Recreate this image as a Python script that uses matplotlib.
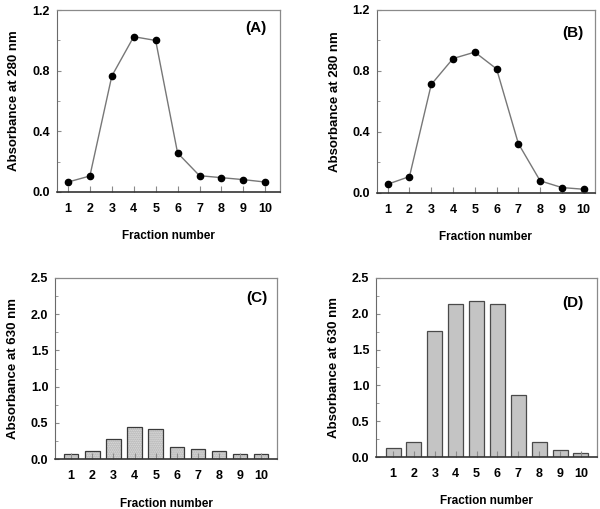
import matplotlib
matplotlib.use("Agg")
import matplotlib.pyplot as plt
from matplotlib.ticker import MultipleLocator

plt.rcParams["font.family"] = ["Liberation Sans", "DejaVu Sans"]

fractions = list(range(1, 11))
abs280_a = [0.065, 0.105, 0.765, 1.025, 1.0, 0.257, 0.107, 0.094, 0.081, 0.065]
abs280_b = [0.057, 0.107, 0.71, 0.88, 0.922, 0.812, 0.323, 0.079, 0.035, 0.024]
abs630_c = [0.065, 0.106, 0.28, 0.449, 0.41, 0.17, 0.14, 0.115, 0.074, 0.065]
abs630_d = [0.12, 0.21, 1.76, 2.13, 2.18, 2.13, 0.86, 0.215, 0.098, 0.05]
panel_tags = ["(A)", "(B)", "(C)", "(D)"]

fig = plt.figure(figsize=(6.0, 5.09), dpi=100)
ax_a = fig.add_axes([0.095, 0.623, 0.372, 0.357])
ax_b = fig.add_axes([0.628, 0.621, 0.363, 0.360])
ax_c = fig.add_axes([0.092, 0.098, 0.370, 0.356])
ax_d = fig.add_axes([0.627, 0.102, 0.368, 0.352])


def style_axes(ax, ylim, major, minor, ylabel, xlim, tag, tag_pos):
    ax.set_xlim(*xlim)
    ax.set_ylim(*ylim)
    ax.set_xticks(fractions)
    ax.yaxis.set_major_locator(MultipleLocator(major))
    ax.yaxis.set_minor_locator(MultipleLocator(minor))
    ax.tick_params(axis="both", which="both", direction="in", colors="#8a8a8a", labelcolor="black")
    ax.tick_params(axis="x", length=4, pad=8)
    ax.tick_params(axis="y", which="major", length=3, pad=5)
    ax.tick_params(axis="y", which="minor", length=2)
    for lab in ax.get_xticklabels() + ax.get_yticklabels():
        lab.set_fontweight("bold")
        lab.set_fontsize(9)
    for side in ["top", "right"]:
        ax.spines[side].set_color("#8a8a8a")
        ax.spines[side].set_linewidth(0.9)
    ax.spines["left"].set_color("#6a6a6a")
    ax.spines["bottom"].set_color("#333333")
    ax.spines["bottom"].set_linewidth(1.2)
    ax.set_ylabel(ylabel, fontsize=9.5, fontweight="bold")
    ax.yaxis.set_label_coords(-0.165, 0.5)
    ax.set_xlabel("Fraction number", fontsize=8.5, fontweight="bold", labelpad=11)
    ax.text(tag_pos[0], tag_pos[1], tag, transform=ax.transAxes, ha="center", va="center",
            fontsize=11, fontweight="bold")


for ax, vals in [(ax_a, abs280_a), (ax_b, abs280_b)]:
    ax.plot(fractions, vals, color="#777777", linewidth=1.0, marker="o",
            markersize=4.5, markerfacecolor="black", markeredgecolor="black")

style_axes(ax_a, (0, 1.2), 0.4, 0.2, "Absorbance at 280 nm", (0.5, 10.68), panel_tags[0], (0.89, 0.90))
style_axes(ax_b, (0, 1.2), 0.4, 0.2, "Absorbance at 280 nm", (0.5, 10.5), panel_tags[1], (0.90, 0.87))

# (C): stippled bars, drawn as hatch layer then outline
ax_c.bar(fractions, abs630_c, width=0.68, color="#e2e2e2", edgecolor="#a8a8a8",
         hatch="........", linewidth=0)
ax_c.bar(fractions, abs630_c, width=0.68, fill=False, edgecolor="#3a3a3a", linewidth=0.9)
style_axes(ax_c, (0, 2.5), 0.5, 0.25, "Absorbance at 630 nm", (0.24, 10.76), panel_tags[2], (0.91, 0.89))

ax_d.bar(fractions, abs630_d, width=0.72, color="#c4c4c4", edgecolor="#4a4a4a", linewidth=0.9)
style_axes(ax_d, (0, 2.5), 0.5, 0.25, "Absorbance at 630 nm", (0.19, 10.77), panel_tags[3], (0.89, 0.86))

fig.savefig("out.png", dpi=100)
